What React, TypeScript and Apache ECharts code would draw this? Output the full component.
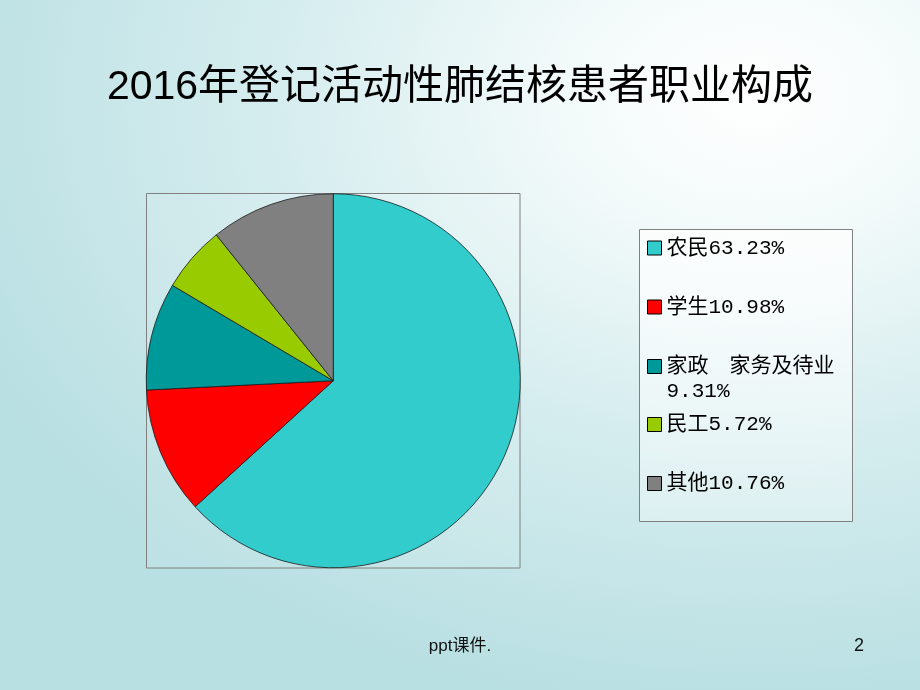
import React, { useEffect, useRef } from "react";
import * as echarts from "echarts";

const titleText = "2016年登记活动性肺结核患者职业构成";
const categories = ["农民", "学生", "家政　家务及待业", "民工", "其他"];
const values = [63.23, 10.98, 9.31, 5.72, 10.76];
const sliceColors = ["#33CCCC", "#FF0000", "#009999", "#99CC00", "#808080"];
const footerText = "ppt课件.";
const pageNumber = "2";

const legendCenters = [248, 307, 366.5, 424.5, 483.5];
const LH = 25;

export default function App() {
  const ref = useRef<HTMLDivElement>(null);
  useEffect(() => {
    if (!ref.current) return;
    const chart = echarts.init(ref.current, null, { renderer: "svg" });
    const legendFont = "'Liberation Mono', 'Noto Sans CJK SC', monospace";
    const legends = categories.map((name, i) => {
      const multi = name.length > 4;
      return {
        data: [name],
        orient: "vertical",
        left: 647,
        top: multi ? legendCenters[i] - 1.5 * LH : legendCenters[i] - LH / 2,
        padding: 0,
        itemWidth: 14,
        itemHeight: 14,
        itemGap: 0,
        icon: "rect",
        selectedMode: false,
        itemStyle: { borderColor: "#000", borderWidth: 1 },
        textStyle: {
          fontSize: 21,
          lineHeight: LH,
          color: "#000",
          fontFamily: legendFont,
        },
        formatter: (n: string) => {
          const idx = categories.indexOf(n);
          const pct = values[idx].toFixed(2) + "%";
          return multi ? "\n" + n + "\n" + pct : n + pct;
        },
      };
    });
    chart.setOption({
      animation: false,
      backgroundColor: "transparent",
      title: {
        text: titleText,
        left: "center",
        top: 59,
        textStyle: {
          fontSize: 41,
          fontWeight: "normal",
          color: "#000",
          fontFamily: "'Liberation Sans', 'Noto Sans CJK SC', sans-serif",
        },
      },
      legend: legends,
      graphic: [
        {
          type: "rect",
          shape: { x: 146.5, y: 193.5, width: 373.5, height: 374.5 },
          style: { fill: "rgba(255,255,255,0.08)", stroke: "#808080", lineWidth: 1 },
          z: 0,
        },
        {
          type: "rect",
          shape: { x: 639.5, y: 229.5, width: 213, height: 292 },
          style: {
            fill: {
              type: "linear",
              x: 0,
              y: 0,
              x2: 0,
              y2: 1,
              colorStops: [
                { offset: 0, color: "rgba(255,255,255,0.75)" },
                { offset: 1, color: "rgba(255,255,255,0.3)" },
              ],
            },
            stroke: "#808080",
            lineWidth: 1,
          },
          z: 0,
        },
        {
          type: "text",
          x: 460,
          y: 645,
          style: {
            text: footerText,
            fontSize: 17,
            fill: "#111",
            align: "center",
            verticalAlign: "middle",
            fontFamily: "'Liberation Sans', 'Noto Sans CJK SC', sans-serif",
          },
        },
        {
          type: "text",
          x: 859,
          y: 645,
          style: {
            text: pageNumber,
            fontSize: 18,
            fill: "#111",
            align: "center",
            verticalAlign: "middle",
            fontFamily: "'Liberation Sans', sans-serif",
          },
        },
      ],
      series: [
        {
          type: "pie",
          center: [333.25, 380.75],
          radius: 187,
          startAngle: 90,
          clockwise: true,
          label: { show: false },
          labelLine: { show: false },
          emphasis: { disabled: true },
          itemStyle: { borderColor: "#1a1a1a", borderWidth: 0.8 },
          data: categories.map((name, i) => ({
            name,
            value: values[i],
            itemStyle: { color: sliceColors[i] },
          })),
        },
      ],
    });
    return () => chart.dispose();
  }, []);
  return (
    <div
      style={{
        position: "fixed",
        left: 0,
        top: 0,
        width: 920,
        height: 690,
        background:
          "radial-gradient(ellipse 860px 620px at 82% 14%, #ffffff 0%, #f3fafa 22%, #d6edef 55%, #b8dfe2 100%)",
      }}
    >
      <div ref={ref} style={{ width: 920, height: 690 }} />
    </div>
  );
}
